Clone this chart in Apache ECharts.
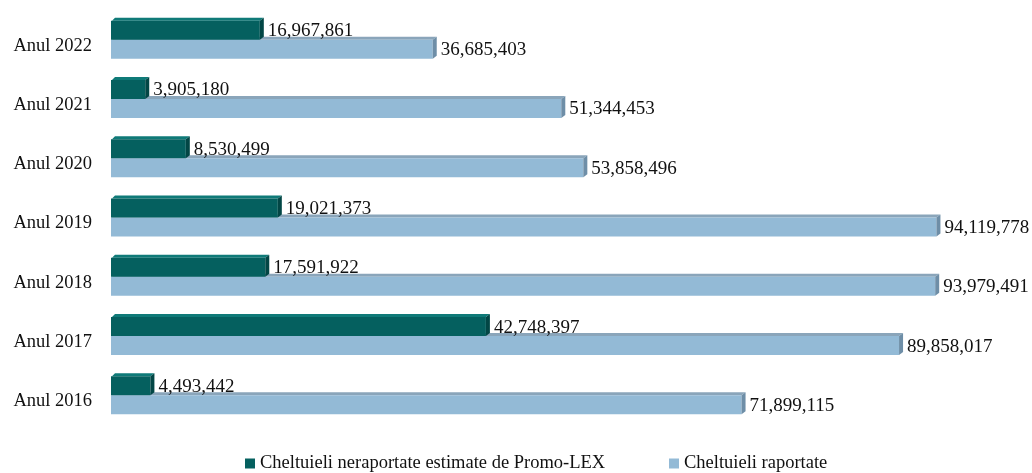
<!DOCTYPE html>
<html>
<head>
<meta charset="utf-8">
<script src="https://cdn.jsdelivr.net/npm/echarts@6/dist/echarts.min.js"></script>
<style>html,body{margin:0;padding:0;background:#fff}#c{width:1032px;height:473px}</style>
</head>
<body>
<div id="c"></div>
<script>
const categories = ['Anul 2016','Anul 2017','Anul 2018','Anul 2019','Anul 2020','Anul 2021','Anul 2022'];
const unreported = [4493442, 42748397, 17591922, 19021373, 8530499, 3905180, 16967861];
const reported = [71899115, 89858017, 93979491, 94119778, 53858496, 51344453, 36685403];
const seriesNames = ['Cheltuieli neraportate estimate de Promo-LEX', 'Cheltuieli raportate'];

const FONT = '"Liberation Serif", "DejaVu Serif", serif';
const palette = {
  dark: {front: '#05605f', top: '#0f7a78', side: '#024645'},
  light: {front: '#93bad6', top: '#8aa5ba', side: '#6e8ea7'}
};
const BW = 19, DX = 4, DY = 3;

function fmt(v){ return v.toLocaleString('en-US'); }

function makeRender(kind){
  const col = palette[kind];
  return function(params, api){
    const val = api.value(0), cat = api.value(1);
    const p0 = api.coord([0, cat]);
    const p1 = api.coord([val, cat]);
    const x0 = p0[0], x1 = p1[0], yc = p0[1];
    const top = kind === 'dark' ? yc - BW : yc;
    const bottom = top + BW;
    return {
      type: 'group',
      children: [
        {type: 'polygon', shape: {points: [[x0+1,top],[x1,top],[x1+DX,top-DY],[x0+DX,top-DY]]}, style: {fill: col.top}},
        {type: 'rect', shape: {x: x0, y: top, width: x1 - x0, height: BW}, style: {fill: col.front}},
        {type: 'polygon', shape: {points: [[x1,top],[x1+DX,top-DY],[x1+DX,bottom-DY],[x1,bottom]]}, style: {fill: col.side}},
        {type: 'text', x: x1 + DX + 4, y: (top + bottom) / 2 + 1,
         style: {text: fmt(val), fill: '#111', font: '19px ' + FONT, textAlign: 'left', textVerticalAlign: 'middle'}}
      ]
    };
  };
}

const chart = echarts.init(document.getElementById('c'), null, {renderer: 'canvas'});
chart.setOption({
  animation: false,
  backgroundColor: '#fff',
  grid: {left: 111, right: 44, top: 10, bottom: 48},
  xAxis: {type: 'value', min: 0, max: 100000000, show: false},
  yAxis: {
    type: 'category', data: categories,
    axisLine: {show: false}, axisTick: {show: false}, splitLine: {show: false},
    axisLabel: {color: '#111', fontFamily: FONT, fontSize: 18.5, margin: 19, verticalAlign: 'top', lineHeight: 12}
  },
  legend: [
    {left: 240, top: 449, itemWidth: 10, itemHeight: 10, icon: 'rect', itemGap: 10,
     textStyle: {fontFamily: FONT, fontSize: 18.5, color: '#111'},
     data: [{name: seriesNames[0], itemStyle: {color: palette.dark.front}}]},
    {left: 664, top: 449, itemWidth: 10, itemHeight: 10, icon: 'rect',
     textStyle: {fontFamily: FONT, fontSize: 18.5, color: '#111'},
     data: [{name: seriesNames[1], itemStyle: {color: palette.light.front}}]}
  ],
  series: [
    {type: 'custom', name: seriesNames[1], z: 2, color: palette.light.front, itemStyle: {color: palette.light.front},
     encode: {x: 0, y: 1}, renderItem: makeRender('light'),
     data: reported.map((v, i) => [v, i])},
    {type: 'custom', name: seriesNames[0], z: 3, color: palette.dark.front, itemStyle: {color: palette.dark.front},
     encode: {x: 0, y: 1}, renderItem: makeRender('dark'),
     data: unreported.map((v, i) => [v, i])}
  ]
});
</script>
</body>
</html>
